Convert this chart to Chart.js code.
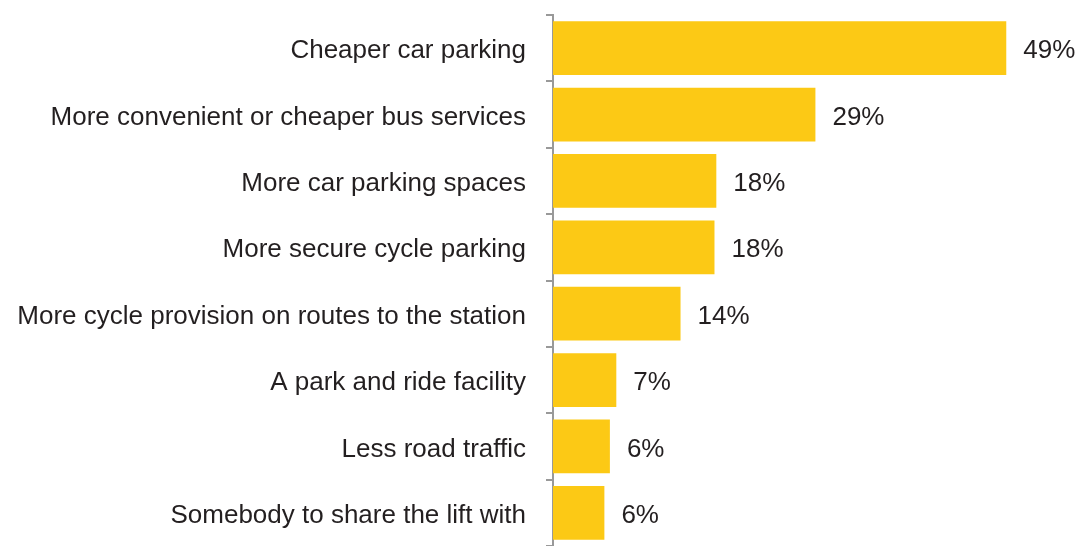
<!DOCTYPE html>
<html lang="en">
<head>
    <meta charset="UTF-8">
    <title>Improvements that would encourage station use</title>
    <script src="https://cdn.jsdelivr.net/npm/chart.js"></script>
    <style>
        html, body { margin: 0; padding: 0; background: #fff; }
        #wrap { width: 1079px; height: 546px; }
    </style>
</head>
<body>
    <div id="wrap"><canvas id="chart"></canvas></div>

    <script>
        // Survey answers, share of respondents (%)
        const categories = [
            'Cheaper car parking',
            'More convenient or cheaper bus services',
            'More car parking spaces',
            'More secure cycle parking',
            'More cycle provision on routes to the station',
            'A park and ride facility',
            'Less road traffic',
            'Somebody to share the lift with'
        ];
        const shares = [49.4, 28.6, 17.8, 17.6, 13.9, 6.9, 6.2, 5.6];

        const FONT = '"Liberation Sans", Arial, sans-serif';

        // percentage text after each bar
        const valueLabels = {
            id: 'valueLabels',
            afterDatasetsDraw(chart) {
                const ctx = chart.ctx;
                const meta = chart.getDatasetMeta(0);
                ctx.save();
                ctx.font = '26px ' + FONT;
                ctx.fillStyle = '#231f20';
                ctx.textAlign = 'left';
                ctx.textBaseline = 'middle';
                meta.data.forEach((bar, i) => {
                    ctx.fillText(Math.round(shares[i]) + '%', bar.x + 17, bar.y + 3);
                });
                ctx.restore();
            }
        };

        document.addEventListener('DOMContentLoaded', function () {
            const ctx = document.getElementById('chart').getContext('2d');
            new Chart(ctx, {
                type: 'bar',
                data: {
                    labels: categories,
                    datasets: [{
                        data: shares,
                        backgroundColor: '#fcc915',
                        borderWidth: 0,
                        barPercentage: 0.81,
                        categoryPercentage: 1
                    }]
                },
                options: {
                    indexAxis: 'y',
                    responsive: true,
                    maintainAspectRatio: false,
                    animation: false,
                    layout: { padding: { top: 15, right: 3, bottom: -1, left: 0 } },
                    plugins: {
                        legend: { display: false },
                        tooltip: { enabled: false }
                    },
                    scales: {
                        x: {
                            display: false,
                            min: 0,
                            max: 57
                        },
                        y: {
                            afterFit(scale) {
                                scale.width = 553;
                                scale.paddingTop = 0;
                                scale.paddingBottom = 0;
                            },
                            grid: {
                                offset: true,
                                drawOnChartArea: false,
                                drawTicks: true,
                                tickLength: 7,
                                color: '#999999',
                                lineWidth: 2
                            },
                            border: { display: true, color: '#999999', width: 2 },
                            ticks: {
                                color: '#231f20',
                                padding: 20,
                                labelOffset: 3,
                                font: { family: FONT, size: 26 }
                            }
                        }
                    }
                },
                plugins: [valueLabels]
            });
        });
    </script>
</body>
</html>
